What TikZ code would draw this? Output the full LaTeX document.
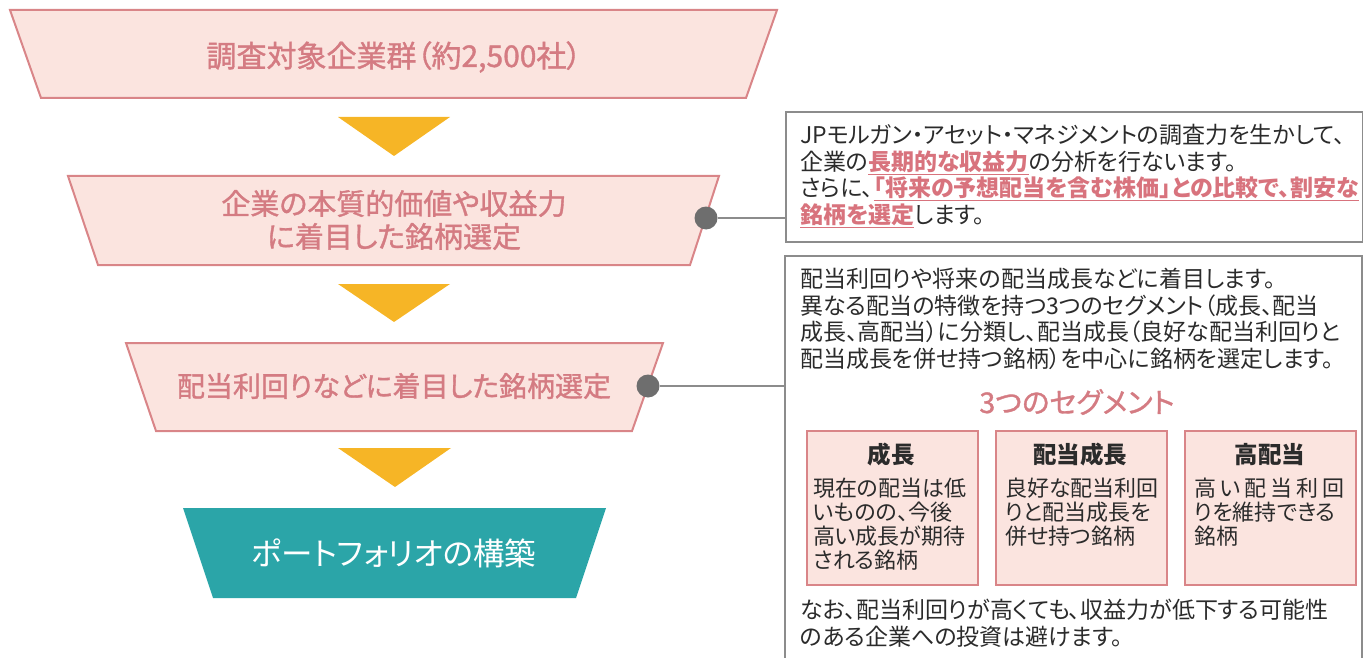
\documentclass[tikz,border=0pt]{standalone}
\usepackage{fontspec}
\setmainfont{Noto Sans CJK JP}[RawFeature=+palt]
\newfontfamily\medfont{Noto Sans CJK JP}[RawFeature=+palt,FakeBold=1.2]
\definecolor{trapfill}{HTML}{FBE4DF}
\definecolor{trapline}{HTML}{D98588}
\definecolor{trapText}{HTML}{D47B82}
\definecolor{arrowY}{HTML}{F6B526}
\definecolor{tealC}{HTML}{2BA5A8}
\definecolor{boxLine}{HTML}{8C8C8C}
\definecolor{dotC}{HTML}{6E6E6E}
\definecolor{bodyT}{HTML}{2B2B2B}
\definecolor{hiT}{HTML}{D8737D}
\newcommand\pinkul[1]{\textcolor{hiT}{\bfseries\underline{#1}}}
\tikzset{
  trap/.style={fill=trapfill, draw=trapline, line width=2pt, line join=miter},
  traptext/.style={text=trapText, font=\medfont\fontsize{29}{33}\selectfont, align=center, inner sep=0},
  downarrow/.style={fill=arrowY, draw=none},
  infobox/.style={draw=boxLine, line width=1.6pt},
  bodytext/.style={text=bodyT, font=\fontsize{23}{26.7}\selectfont, align=left, anchor=north west, inner sep=0},
  segtext/.style={text=bodyT, font=\fontsize{22}{24}\selectfont, align=left, anchor=north west, inner sep=0},
  segtitle/.style={text=bodyT, font=\bfseries\fontsize{23.5}{26}\selectfont, inner sep=0},
  segbox/.style={draw=trapline, fill=trapfill, line width=2pt, minimum width=171pt, minimum height=154pt, inner sep=0, anchor=north west},
  dotnode/.style={circle, fill=dotC, minimum size=23pt, inner sep=0},
  link/.style={draw=boxLine, line width=1.6pt}
}
\begin{document}
\begin{tikzpicture}[x=1pt,y=-1pt]
\useasboundingbox (0,0) rectangle (1363,658);
% funnel
\draw[trap] (10,10) -- (777,10) -- (746,98) -- (41,98) -- cycle;
\node[traptext, font=\medfont\fontsize{30}{33}\selectfont] (t1) at (394,57) {調査対象企業群（約2,500社）};
\fill[downarrow] (338,117) -- (450,117) -- (394,156) -- cycle;
\draw[trap] (68,176) -- (719,176) -- (690,265) -- (98,265) -- cycle;
\node[traptext] (t2) at (394,220) {企業の本質的価値や収益力\\に着目した銘柄選定};
\fill[downarrow] (338,284) -- (450,284) -- (394,322) -- cycle;
\draw[trap] (126,343) -- (663,343) -- (632,431) -- (156,431) -- cycle;
\node[traptext, font=\medfont\fontsize{28}{33}\selectfont] (t3) at (394,386) {配当利回りなどに着目した銘柄選定};
\fill[downarrow] (338,448) -- (451,448) -- (395,487) -- cycle;
\fill[tealC] (183,508) -- (606,508) -- (576,598) -- (213,598) -- cycle;
\node[traptext, text=white, font=\fontsize{31.5}{33}\selectfont] (t4) at (394,553) {ポートフォリオの構築};
% box 1
\node[infobox, minimum width=577pt, minimum height=130pt, anchor=north west, inner sep=0] (box1) at (785,111) {};
\node[bodytext] (b1t) at (800,124) {JPモルガン・アセット・マネジメントの調査力を生かして、\\
企業の\pinkul{長期的な収益力}の分析を行ないます。\\
さらに、\pinkul{「将来の予想配当を含む株価」との比較で、割安な}\\
\pinkul{銘柄を選定}します。};
\node[dotnode] (d1) at (706,218) {};
\draw[link] (d1.east) -- (d1 -| box1.west);
% box 2
\draw[infobox] (1362,660) -- (1362,256) -- (785,256) -- (785,660);
\coordinate (b2w) at (785,386);
\node[dotnode] (d2) at (648,386) {};
\draw[link] (d2.east) -- (d2 -| b2w);
\node[bodytext] (b2t) at (800,268) {配当利回りや将来の配当成長などに着目します。\\
異なる配当の特徴を持つ3つのセグメント（成長、配当\\
成長、高配当）に分類し、配当成長（良好な配当利回りと\\
配当成長を併せ持つ銘柄）を中心に銘柄を選定します。};
\node[text=trapText, font=\medfont\fontsize{28.5}{30}\selectfont, inner sep=0] (seg) at (1077,402) {3つのセグメント};
% segment boxes
\node[segbox] (sa) at (806,430) {};
\node[segbox] (sb) at (995,430) {};
\node[segbox] (sc) at (1184,430) {};
\node[segtitle] (sat) at (891,455) {成長};
\node[segtitle] (sbt) at (1080,455) {配当成長};
\node[segtitle] (sct) at (1270,455) {高配当};
\node[segtext] (sax) at (813,478) {現在の配当は低\\いものの、今後\\高い成長が期待\\される銘柄};
\node[segtext] (sbx) at (1005,478) {良好な配当利回\\りと配当成長を\\併せ持つ銘柄};
\node[segtext] (scx) at (1194,478) {\makebox[150pt][s]{高\hfill い\hfill 配\hfill 当\hfill 利\hfill 回}\\りを維持できる\\銘柄};
\node[bodytext] (b2n) at (800,599) {なお、配当利回りが高くても、収益力が低下する可能性\\
のある企業への投資は避けます。};
\end{tikzpicture}
\end{document}
